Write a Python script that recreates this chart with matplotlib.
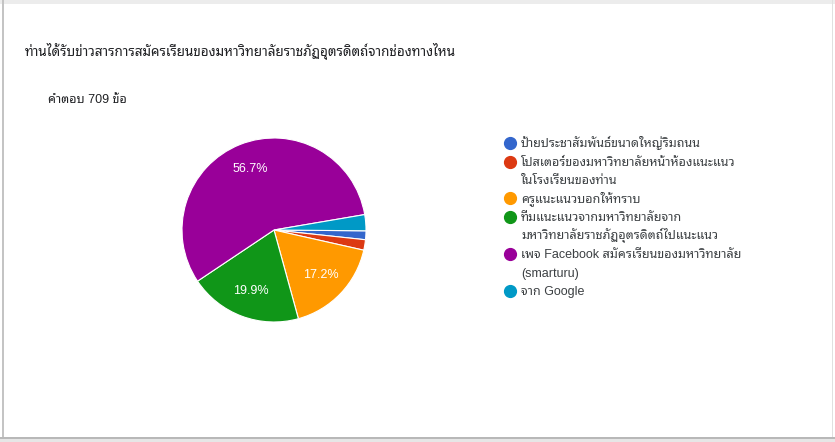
import matplotlib
matplotlib.use("Agg")
import matplotlib.pyplot as plt
from matplotlib import font_manager as fm, ft2font
from matplotlib.patches import Rectangle
from matplotlib.lines import Line2D

# ---------------- data ----------------
title = "ท่านได้รับข่าวสารการสมัครเรียนของมหาวิทยาลัยราชภัฏอุตรดิตถ์จากช่องทางไหน"
subtitle = "คำตอบ 709 ข้อ"
labels = [
    "ป้ายประชาสัมพันธ์ขนาดใหญ่ริมถนน",
    "โปสเตอร์ของมหาวิทยาลัยหน้าห้องแนะแนว\nในโรงเรียนของท่าน",
    "ครูแนะแนวบอกให้ทราบ",
    "ทีมแนะแนวจากมหาวิทยาลัยจาก\nมหาวิทยาลัยราชภัฏอุตรดิตถ์ไปแนะแนว",
    "เพจ Facebook สมัครเรียนของมหาวิทยาลัย\n(smarturu)",
    "จาก Google",
]
counts = [11, 13, 122, 141, 402, 20]
colors = ["#3366CC", "#DC3912", "#FF9900", "#109618", "#990099", "#0099C6"]

# ---------------- fonts ----------------
def has_thai(path):
    try:
        f = ft2font.FT2Font(path)
        cm = f.get_charmap()
        return 0x0E01 in cm and 0x0E49 in cm
    except Exception:
        return False

thai_fams = []
for fe in fm.fontManager.ttflist:
    if fe.name not in thai_fams and has_thai(fe.fname):
        thai_fams.append(fe.name)

def rank(n):
    pref = ["Noto Sans Thai", "Noto Sans Thai UI", "Sarabun", "Loma", "Garuda", "Tlwg", "Norasi"]
    for i, p in enumerate(pref):
        if p in n:
            return i
    return len(pref) + (0 if "Sans" in n else 1)

thai_fams.sort(key=rank)
FAM = ["Liberation Sans"] + thai_fams[:1] + ["DejaVu Sans"]
plt.rcParams["font.family"] = FAM

W, H = 835, 442
fig = plt.figure(figsize=(W / 100, H / 100), dpi=100)
fig.patch.set_facecolor("white")

def fx(x):
    return x / W

def fy(y):
    return 1 - y / H

# card border / shadow
fig.add_artist(Rectangle((0, fy(4)), 1, 4 / H, transform=fig.transFigure,
                         facecolor="#ececec", edgecolor="none"))
fig.add_artist(Rectangle((fx(2), 0), 1.5 / W, 1, transform=fig.transFigure,
                         facecolor="#c4c4c4", edgecolor="none"))
fig.add_artist(Rectangle((fx(832), 0), 1 / W, 1, transform=fig.transFigure,
                         facecolor="#e0e0e0", edgecolor="none"))
fig.add_artist(Rectangle((0, 0), 1, 5 / H, transform=fig.transFigure,
                         facecolor="#e6e6e6", edgecolor="none"))
fig.add_artist(Rectangle((0, 3 / H), 1, 2 / H, transform=fig.transFigure,
                         facecolor="#b8b8b8", edgecolor="none"))

# title & subtitle
fig.text(fx(25), fy(56), title, fontsize=9.7, color="#202124", va="baseline", ha="left")
fig.text(fx(48), fy(103), subtitle, fontsize=9, color="#202124", va="baseline", ha="left")

# pie
cx, cy, r = 274, 230, 92
ax = fig.add_axes([fx(cx - r), fy(cy + r), 2 * r / W, 2 * r / H])

def fmt(p):
    return f"{p:.1f}%" if p >= 5 else ""

wedges, texts, autotexts = ax.pie(
    counts, colors=colors, startangle=-0.5, counterclock=False,
    autopct=fmt, pctdistance=0.71,
    wedgeprops=dict(edgecolor="white", linewidth=0.8),
    textprops=dict(color="white", fontsize=9),
)
ax.set_xlim(-1.0, 1.0)
ax.set_ylim(-1.0, 1.0)
ax.set_aspect("equal")
ax.axis("off")

# legend
lx_marker, lx_text = 510, 521
y = 143
line_h = 18.5
for lab, col in zip(labels, colors):
    fig.add_artist(Line2D([fx(lx_marker)], [fy(y)], transform=fig.transFigure,
                          marker="o", markersize=8.5, markerfacecolor=col,
                          markeredgecolor=col, linestyle="none"))
    for line in lab.split("\n"):
        fig.text(fx(lx_text), fy(y + 4), line, fontsize=9, color="#3c4043",
                 va="baseline", ha="left")
        y += line_h

fig.savefig("out.png", dpi=100, facecolor="white")
